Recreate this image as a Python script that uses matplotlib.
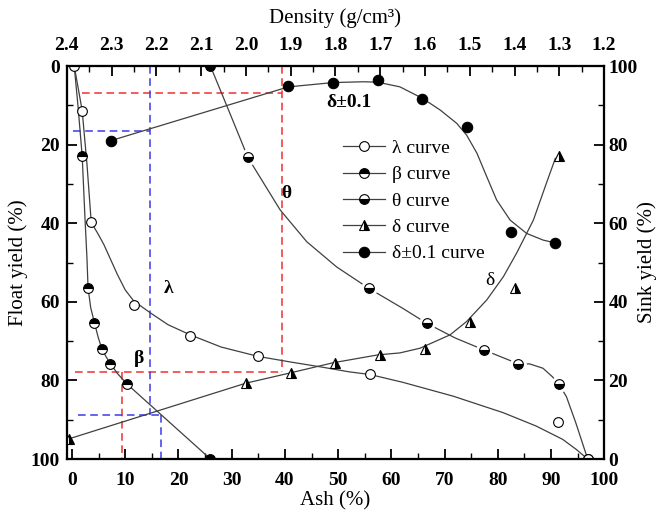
import matplotlib
matplotlib.use('Agg')
import matplotlib.pyplot as plt
from matplotlib.lines import Line2D
from matplotlib.ticker import MultipleLocator, FormatStrFormatter

plt.rcParams['font.family'] = ['Liberation Serif', 'DejaVu Serif']

# ── data ──────────────────────────────────────────────────────────────────────
# lambda curve (elementary ash): ash % vs float yield %
lam_ash   = [0.4, 1.9, 3.6, 11.6, 22.2, 35.0, 56.0, 91.4, 96.9]
lam_yield = [0.0, 11.4, 39.8, 60.8, 68.7, 73.8, 78.3, 90.5, 100.0]
lam_fit_ash   = [0.4, 1.2, 1.9, 2.8, 3.6, 5.0, 6.0, 7.0, 8.5, 10.0, 11.6, 14.7, 18.0, 22.2,
                 28.0, 35.0, 41.0, 46.9, 52.0, 56.0, 62.2, 71.6, 81.0, 87.2, 92.2, 94.7, 96.9]
lam_fit_yield = [0.0, 6.0, 11.4, 25.0, 39.8, 43.0, 45.5, 48.5, 53.0, 57.0, 59.8, 62.8, 65.8, 68.4,
                 71.5, 73.9, 75.3, 76.6, 77.8, 78.5, 80.5, 84.0, 88.2, 91.6, 95.0, 97.5, 100.0]

# beta curve (cumulative float)
beta_ash   = [1.9, 3.0, 4.2, 5.6, 7.2, 10.3, 26.0]
beta_yield = [22.9, 56.4, 65.3, 72.0, 75.7, 80.9, 100.0]
beta_fit_ash   = [0.4, 1.1, 1.9, 2.4, 2.8, 3.0, 3.5, 4.2, 4.9, 5.6, 6.4, 7.2, 8.5, 10.3, 26.0]
beta_fit_yield = [0.0, 10.0, 22.9, 38.0, 49.0, 56.4, 61.5, 65.3, 69.0, 72.0, 74.0, 75.7, 78.2, 80.9, 100.0]

# theta curve (cumulative sink)
theta_ash   = [26.0, 33.0, 55.8, 66.7, 77.5, 83.9, 91.5, 96.9]
theta_yield = [0.0, 23.1, 56.6, 65.5, 72.3, 75.8, 81.0, 100.0]
theta_fit_ash   = [26.0, 29.5, 33.0, 34.1, 39.1, 44.1, 49.7, 55.8, 62.2, 66.7, 72.0, 77.5,
                   83.9, 86.0, 88.5, 90.3, 91.5, 92.9, 94.7, 96.9]
theta_fit_yield = [0.0, 11.5, 23.1, 25.6, 36.6, 44.7, 51.1, 56.6, 61.7, 65.5, 69.2, 72.3,
                   75.8, 75.8, 76.9, 79.1, 81.0, 84.1, 90.9, 100.0]

# delta curve (density vs float yield)
delta_dens  = [2.396, 2.0, 1.9, 1.8, 1.7, 1.6, 1.5, 1.4, 1.3]
delta_yield = [94.9, 80.7, 78.2, 75.5, 73.6, 72.0, 65.1, 56.4, 22.9]
delta_fit_dens  = [2.396, 2.0, 1.905, 1.805, 1.705, 1.656, 1.611, 1.544, 1.507, 1.462,
                   1.425, 1.395, 1.358, 1.328, 1.309]
delta_fit_yield = [94.9, 80.7, 78.2, 75.5, 73.5, 73.0, 71.8, 68.4, 65.0, 59.5,
                   53.6, 47.5, 39.2, 29.5, 23.5]

# delta +/- 0.1 curve
nd_dens  = [2.302, 1.905, 1.805, 1.706, 1.606, 1.507, 1.408, 1.309]
nd_yield = [19.0, 5.1, 4.4, 3.6, 8.5, 15.6, 42.3, 45.0]
nd_fit_dens  = [2.302, 1.905, 1.805, 1.738, 1.706, 1.656, 1.606, 1.566, 1.529, 1.507,
                1.484, 1.462, 1.440, 1.410, 1.373, 1.336, 1.309]
nd_fit_yield = [19.0, 5.3, 4.2, 4.0, 4.1, 5.3, 8.2, 11.2, 14.6, 17.6,
                22.2, 28.2, 34.1, 39.2, 42.6, 44.3, 45.0]

# guide lines (ash %, float yield %)
red_x  = [[1.9, 39.4], [39.4, 39.4], [0.5, 39.4], [9.4, 9.4]]
red_y  = [[6.8, 6.8], [0.0, 77.9], [77.9, 77.9], [77.9, 100.0]]
blue_x = [[0.2, 14.6], [14.6, 14.6], [1.2, 16.75], [16.75, 16.75]]
blue_y = [[16.5, 16.5], [0.0, 88.7], [88.7, 88.7], [88.7, 100.0]]

LINE = dict(color='#404040', lw=0.9)
FS = 14

fig = plt.figure(figsize=(6.61, 5.12), dpi=100)
ax = fig.add_axes([0.101, 0.1035, 0.813, 0.7675])
axt = ax.twiny()
axr = ax.twinx()

ax.set_xlim(-1, 100)
ax.set_ylim(100, 0)
axt.set_xlim(2.4, 1.2)
axr.set_ylim(0, 100)

# guide lines
for xs, ys in zip(red_x, red_y):
    ax.plot(xs, ys, color='#f03030', lw=1.1, ls=(0, (5, 3)), zorder=1)
for xs, ys in zip(blue_x, blue_y):
    ax.plot(xs, ys, color='#3a3ae8', lw=1.1, ls=(0, (5, 3)), zorder=1)

# fitted lines
ax.plot(lam_fit_ash, lam_fit_yield, **LINE, zorder=2)
ax.plot(beta_fit_ash, beta_fit_yield, **LINE, zorder=2)
ax.plot(theta_fit_ash, theta_fit_yield, **LINE, zorder=2)
axt.plot(delta_fit_dens, delta_fit_yield, **LINE, zorder=2)
axt.plot(nd_fit_dens, nd_fit_yield, **LINE, zorder=2)

# marker styles
MS = 7
sty_lam = dict(marker='o', ms=MS, mfc='white', mec='black', mew=0.8)
sty_beta = dict(marker='o', ms=MS, mfc='black', mfcalt='white', fillstyle='top', mec='black', mew=0.8)
sty_theta = dict(marker='o', ms=MS, mfc='black', mfcalt='white', fillstyle='bottom', mec='black', mew=0.8)
sty_delta = dict(marker='^', ms=MS + 0.5, mfc='black', mfcalt='white', fillstyle='right', mec='black', mew=0.8)
sty_nd = dict(marker='o', ms=MS + 0.5, mfc='black', mec='black', mew=0.8)

# white halo round theta markers (line gaps)
ax.plot(theta_ash[1:-1], theta_yield[1:-1], ls='none', marker='o', ms=MS + 5,
        mfc='white', mec='none', zorder=3)

ax.plot(lam_ash, lam_yield, ls='none', zorder=4, **sty_lam)
ax.plot(beta_ash, beta_yield, ls='none', zorder=4, **sty_beta)
ax.plot(theta_ash, theta_yield, ls='none', zorder=4, **sty_theta)
axt.plot(delta_dens, delta_yield, ls='none', zorder=4, **sty_delta)
axt.plot(nd_dens, nd_yield, ls='none', zorder=4, **sty_nd)

# curve labels
ax.text(18.1, 56.6, 'λ', fontsize=FS, fontweight='bold', ha='center', va='center')
ax.text(12.5, 74.4, 'β', fontsize=FS, fontweight='bold', ha='center', va='center')
ax.text(40.3, 32.4, 'θ', fontsize=FS, fontweight='bold', ha='center', va='center')
ax.text(78.5, 54.5, 'δ', fontsize=FS, ha='center', va='center')
ax.text(52.0, 9.3, 'δ±0.1', fontsize=FS, fontweight='bold', ha='center', va='center')

# legend
handles = [
    Line2D([], [], **LINE, **sty_lam),
    Line2D([], [], **LINE, **sty_beta),
    Line2D([], [], **LINE, **sty_theta),
    Line2D([], [], **LINE, **sty_delta),
    Line2D([], [], **LINE, **sty_nd),
]
labels = ['λ curve', 'β curve', 'θ curve', 'δ curve', 'δ±0.1 curve']
fig.legend(handles, labels, loc='upper left', bbox_to_anchor=(0.492, 0.762),
           frameon=False, fontsize=FS, handlelength=2.2, handletextpad=0.35,
           labelspacing=0.45)

# axes, ticks
ax.xaxis.set_major_locator(MultipleLocator(10))
ax.xaxis.set_minor_locator(MultipleLocator(5))
ax.yaxis.set_major_locator(MultipleLocator(20))
ax.yaxis.set_minor_locator(MultipleLocator(10))
axt.xaxis.set_major_locator(MultipleLocator(0.1))
axt.xaxis.set_minor_locator(MultipleLocator(0.05))
axt.xaxis.set_major_formatter(FormatStrFormatter('%.1f'))
axr.yaxis.set_major_locator(MultipleLocator(20))
axr.yaxis.set_minor_locator(MultipleLocator(10))

for a in (ax, axt, axr):
    a.tick_params(which='major', direction='in', length=7, width=1.3, labelsize=FS)
    a.tick_params(which='minor', direction='in', length=4, width=1.0)
    for s in a.spines.values():
        s.set_linewidth(1.5)
    for lab in a.get_xticklabels() + a.get_yticklabels():
        lab.set_fontweight('bold')

ax.tick_params(axis='x', pad=9)
ax.tick_params(axis='y', pad=5)
axt.tick_params(axis='x', pad=9)
axr.tick_params(axis='y', pad=3)

ax.set_xlabel('Ash (%)', fontsize=15, labelpad=2)
ax.set_ylabel('Float yield (%)', fontsize=15, labelpad=2)
axt.set_xlabel('Density (g/cm³)', fontsize=15, labelpad=10)
axr.set_ylabel('Sink yield (%)', fontsize=15, labelpad=0)

fig.savefig('out.png', dpi=100)
